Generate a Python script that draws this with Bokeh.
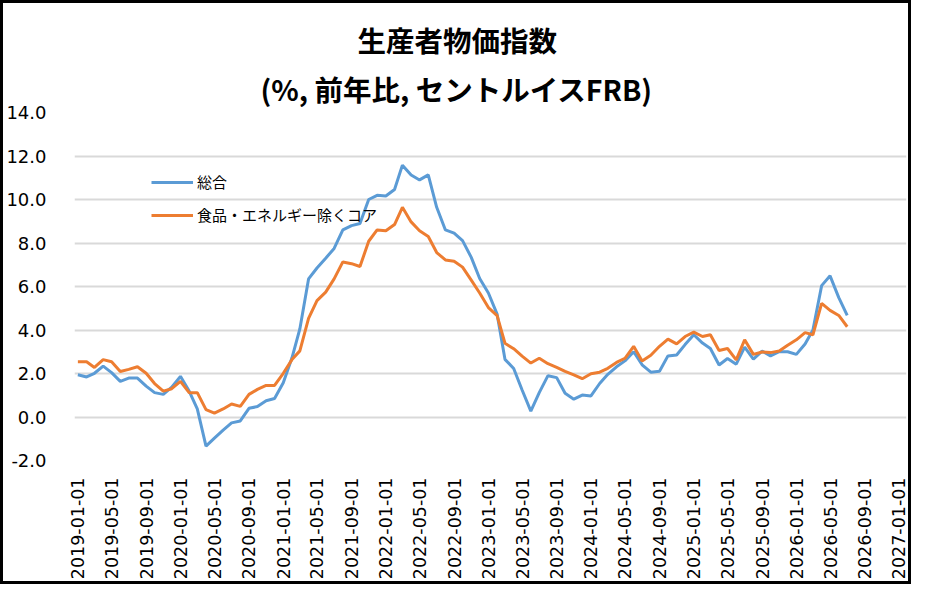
import math
from datetime import datetime, timedelta
import pandas as pd
from bokeh.plotting import figure
from bokeh.models import (Range1d, FixedTicker, NumeralTickFormatter, Legend,
                          LegendItem, Title, ColumnDataSource)
from bokeh.embed import file_html
from bokeh.resources import INLINE

# ---------------- data ----------------
title_line1 = "生産者物価指数"
title_line2 = "(%, 前年比, セントルイスFRB)"
series_names = ["総合", "食品・エネルギー除くコア"]

start_month = "2019-01-01"
n_months = 91

total = [1.94, 1.84, 2.01, 2.34, 2.04, 1.64, 1.79, 1.79, 1.42, 1.12, 1.04, 1.37,
         1.87, 1.19, 0.37, -1.34, -0.97, -0.60, -0.27, -0.18, 0.40, 0.48, 0.75, 0.85,
         1.57, 2.72, 4.05, 6.35, 6.85, 7.30, 7.75, 8.60, 8.80, 8.90, 10.00, 10.19,
         10.16, 10.46, 11.58, 11.13, 10.90, 11.13, 9.64, 8.60, 8.45, 8.11, 7.34, 6.37,
         5.70, 4.73, 2.65, 2.23, 1.24, 0.27, 1.12, 1.90, 1.81, 1.09, 0.82, 1.01,
         0.97, 1.54, 1.96, 2.31, 2.58, 3.00, 2.40, 2.06, 2.10, 2.81, 2.85, 3.33,
         3.78, 3.40, 3.15, 2.39, 2.69, 2.43, 3.21, 2.66, 3.03, 2.81, 3.00, 3.00,
         2.88, 3.36, 4.00, 6.04, 6.49, 5.49, 4.67]

core = [2.54, 2.54, 2.28, 2.64, 2.54, 2.09, 2.19, 2.31, 2.01, 1.54, 1.19, 1.30,
        1.64, 1.12, 1.12, 0.34, 0.18, 0.37, 0.60, 0.49, 1.04, 1.27, 1.45, 1.45,
        2.01, 2.64, 3.04, 4.53, 5.35, 5.74, 6.35, 7.13, 7.05, 6.92, 8.08, 8.60,
        8.56, 8.85, 9.64, 8.97, 8.56, 8.30, 7.56, 7.22, 7.16, 6.89, 6.29, 5.70,
        5.03, 4.66, 3.39, 3.14, 2.80, 2.48, 2.70, 2.45, 2.28, 2.10, 1.94, 1.76,
        1.99, 2.06, 2.24, 2.51, 2.70, 3.25, 2.58, 2.84, 3.25, 3.58, 3.36, 3.70,
        3.90, 3.70, 3.78, 3.06, 3.15, 2.63, 3.55, 2.88, 2.99, 2.96, 3.03, 3.30,
        3.55, 3.88, 3.78, 5.22, 4.90, 4.67, 4.15]

x_tick_labels = ["2019-01-01", "2019-05-01", "2019-09-01", "2020-01-01", "2020-05-01",
                 "2020-09-01", "2021-01-01", "2021-05-01", "2021-09-01", "2022-01-01",
                 "2022-05-01", "2022-09-01", "2023-01-01", "2023-05-01", "2023-09-01",
                 "2024-01-01", "2024-05-01", "2024-09-01", "2025-01-01", "2025-05-01",
                 "2025-09-01", "2026-01-01", "2026-05-01", "2026-09-01", "2027-01-01"]
y_ticks = [-2, 0, 2, 4, 6, 8, 10, 12, 14]

colors = ["#5B9BD5", "#ED7D31"]

# ---------------- figure ----------------
dates = pd.date_range(start_month, periods=n_months, freq="MS")
src = ColumnDataSource(dict(date=dates, total=total, core=core))

x0 = datetime(2019, 1, 1) - timedelta(days=12)
x1 = datetime(2027, 1, 1) + timedelta(days=27)

p = figure(width=911, height=584, x_axis_type="datetime",
           x_range=Range1d(x0, x1), y_range=Range1d(-2, 14),
           output_backend="svg", toolbar_location=None, title=None,
           min_border_left=66, min_border_right=8,
           min_border_top=109, min_border_bottom=127)
p.styles = {"border": "3px solid black"}
p.outline_line_color = None
p.background_fill_color = "white"
p.border_fill_color = "white"

tick_ms = [pd.Timestamp(t).value / 1e6 for t in x_tick_labels]
p.xaxis.ticker = FixedTicker(ticks=tick_ms)
p.xaxis.major_label_overrides = {ms: lab for ms, lab in zip(tick_ms, x_tick_labels)}
p.xaxis.major_label_orientation = math.pi / 2
p.xaxis.major_label_text_font = "DejaVu Sans"
p.xaxis.major_label_text_font_size = "17.5px"
p.xaxis.major_label_text_color = "black"
p.xaxis.major_label_standoff = 11
p.xaxis.axis_line_color = None
p.xaxis.major_tick_line_color = None
p.xaxis.minor_tick_line_color = None

p.yaxis.ticker = FixedTicker(ticks=y_ticks)
p.yaxis.formatter = NumeralTickFormatter(format="0.0")
p.yaxis.major_label_text_font = "DejaVu Sans"
p.yaxis.major_label_text_font_size = "18px"
p.yaxis.major_label_text_color = "black"
p.yaxis.major_label_standoff = 22
p.yaxis.axis_line_color = None
p.yaxis.major_tick_line_color = None
p.yaxis.minor_tick_line_color = None

p.xgrid.grid_line_color = None
p.ygrid.grid_line_color = "#D9D9D9"
p.ygrid.grid_line_width = 2

r1 = p.line("date", "total", source=src, line_color=colors[0], line_width=3)
r2 = p.line("date", "core", source=src, line_color=colors[1], line_width=3)

legend = Legend(items=[LegendItem(label=series_names[0], renderers=[r1]),
                       LegendItem(label=series_names[1], renderers=[r2])],
                location=(77, 235), padding=0, margin=0, spacing=12,
                glyph_width=42, glyph_height=20,
                label_standoff=4, border_line_color=None,
                background_fill_alpha=0,
                label_text_font="Noto Sans CJK JP", label_text_font_size="15px",
                label_text_color="black")
p.add_layout(legend, "center")

t2 = Title(text=title_line2, align="left", offset=186, text_font="Noto Sans CJK JP",
           text_font_size="28.5px", text_font_style="bold", text_color="black",
           standoff=8)
t1 = Title(text=title_line1, align="left", offset=283, text_font="Noto Sans CJK JP",
           text_font_size="28.5px", text_font_style="bold", text_color="black",
           standoff=4)
p.add_layout(t2, "above")
p.add_layout(t1, "above")

open("out.html", "w").write(file_html(p, INLINE))
